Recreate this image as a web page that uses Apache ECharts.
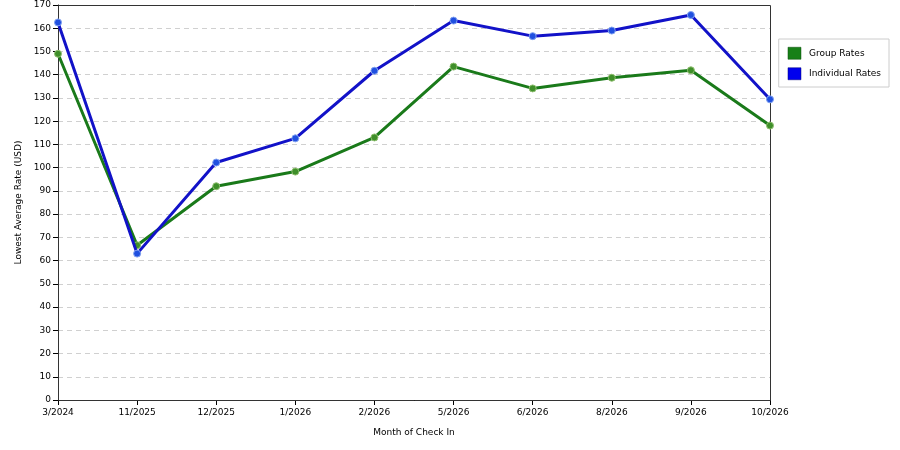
<!DOCTYPE html>
<html><head><meta charset="utf-8">
<script src="https://cdn.jsdelivr.net/npm/echarts@6/dist/echarts.min.js"></script>
<style>html,body{margin:0;padding:0;background:#fff}#c{width:900px;height:450px}</style>
</head><body><div id="c"></div>
<script>
const categories = ['3/2024','11/2025','12/2025','1/2026','2/2026','5/2026','6/2026','8/2026','9/2026','10/2026'];
const groupRates = [149.0, 66.6, 92.0, 98.3, 113.0, 143.5, 134.1, 138.7, 141.9, 118.1];
const individualRates = [162.5, 63.0, 102.2, 112.6, 141.7, 163.3, 156.6, 159.0, 165.7, 129.4];
const yTicks = {min: 0, max: 170, interval: 10};

const font = 'DejaVu Sans';
const G = {left: 58, right: 130, top: 5, bottom: 50};
const chart = echarts.init(document.getElementById('c'));
chart.setOption({
  animation: false,
  backgroundColor: '#fff',
  textStyle: {fontFamily: font},
  grid: {left: G.left, right: G.right, top: G.top, bottom: G.bottom, show: false},
  graphic: [{
    type: 'rect', z: 1, silent: true,
    shape: {x: G.left + 0.5, y: G.top + 0.5, width: 900 - G.left - G.right, height: 450 - G.top - G.bottom},
    style: {fill: null, stroke: '#333', lineWidth: 1}
  }],
  legend: {
    orient: 'vertical', right: 11, top: 39,
    backgroundColor: '#fff', borderColor: '#ccc', borderWidth: 1,
    padding: [8, 8, 7, 9], itemGap: 8, itemWidth: 13, itemHeight: 12,
    icon: 'rect',
    textStyle: {fontFamily: font, fontSize: 9, color: '#000', padding: [0, 0, 0, 3]},
    data: [
      {name: 'Group Rates', itemStyle: {color: '#178017', borderColor: '#0d4d0d', borderWidth: 0.5}},
      {name: 'Individual Rates', itemStyle: {color: '#0000ee', borderColor: '#00007a', borderWidth: 0.5}}
    ]
  },
  xAxis: {
    type: 'category', data: categories, boundaryGap: false,
    name: 'Month of Check In', nameLocation: 'middle', nameGap: 28,
    nameTextStyle: {fontFamily: font, fontSize: 9, color: '#000'},
    axisLine: {lineStyle: {color: '#000', width: 1}},
    axisTick: {alignWithLabel: true, length: 5, lineStyle: {color: '#000'}},
    axisLabel: {fontFamily: font, fontSize: 9, color: '#000', margin: 8, interval: 0},
    splitLine: {show: false}
  },
  yAxis: {
    type: 'value', min: yTicks.min, max: yTicks.max, interval: yTicks.interval,
    name: 'Lowest Average Rate (USD)', nameLocation: 'middle', nameGap: 35,
    nameTextStyle: {fontFamily: font, fontSize: 9, color: '#000'},
    axisLine: {show: true, lineStyle: {color: '#000', width: 1}},
    axisTick: {show: true, length: 5, lineStyle: {color: '#000'}},
    axisLabel: {fontFamily: font, fontSize: 9, color: '#000', margin: 7},
    splitLine: {show: true, lineStyle: {color: '#d0d0d0', type: [5, 4], width: 1}}
  },
  series: [
    {
      name: 'Group Rates', type: 'line', data: groupRates,
      symbol: 'circle', symbolSize: 7,
      lineStyle: {color: '#1a7a1a', width: 3},
      itemStyle: {color: '#3f8f2a', borderColor: '#8fbf6f', borderWidth: 1},
      z: 2
    },
    {
      name: 'Individual Rates', type: 'line', data: individualRates,
      symbol: 'circle', symbolSize: 7,
      lineStyle: {color: '#1212c8', width: 3},
      itemStyle: {color: '#2050e0', borderColor: '#7fa0f0', borderWidth: 1},
      z: 3
    }
  ]
});
</script>
</body></html>
